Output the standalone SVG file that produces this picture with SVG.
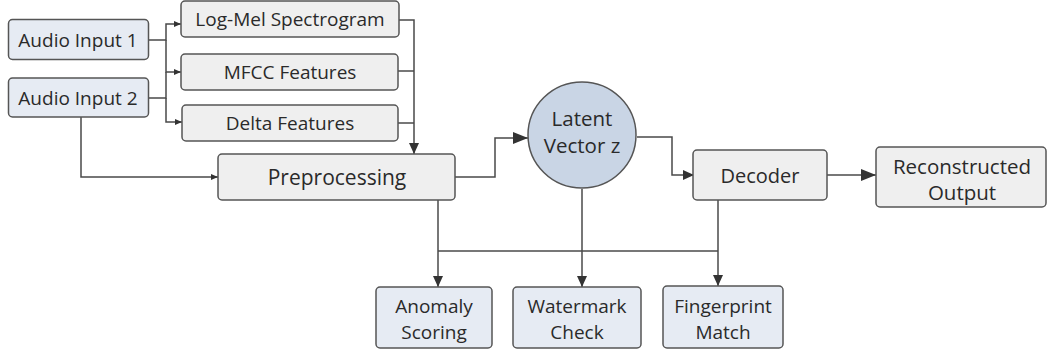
<svg xmlns="http://www.w3.org/2000/svg" width="1051" height="354" viewBox="0 0 1051 354">
<style>
  text { font-family: "Open Sans", "Noto Sans", "DejaVu Sans", sans-serif; fill: #2a2a2a; text-anchor: middle; dominant-baseline: central; }
  .io { fill: #e6ebf3; stroke: #555; stroke-width: 1.5; }
  .proc { fill: #efefef; stroke: #555; stroke-width: 1.5; }
  .lat { fill: #c9d5e5; stroke: #555; stroke-width: 1.5; }
  .c { fill: none; stroke: #4a4a4a; stroke-width: 1.5; }
</style>
<defs>
  <marker id="sm" markerUnits="userSpaceOnUse" markerWidth="8" markerHeight="8" refX="7" refY="4" orient="auto">
    <path d="M0,1 L7,4 L0,7 Z" fill="#333"/>
  </marker>
  <marker id="md" markerUnits="userSpaceOnUse" markerWidth="12" markerHeight="12" refX="11" refY="6" orient="auto">
    <path d="M0,1 L11,6 L0,11 Z" fill="#333"/>
  </marker>
  <marker id="lg" markerUnits="userSpaceOnUse" markerWidth="16" markerHeight="14" refX="15" refY="7" orient="auto">
    <path d="M0,1 L15,7 L0,13 Z" fill="#333"/>
  </marker>
</defs>
<rect width="1051" height="354" fill="#ffffff"/>
<g id="connectors">
  <path class="c" d="M149,40 H166 V24 H181" marker-end="url(#sm)"/>
  <path class="c" d="M166,40 V72 H181" marker-end="url(#sm)"/>
  <path class="c" d="M149,98 H166 V72"/>
  <path class="c" d="M166,98 V122 H182" marker-end="url(#sm)"/>
  <path class="c" d="M399,20 H414 V154" marker-end="url(#md)"/>
  <path class="c" d="M398,71 H414"/>
  <path class="c" d="M398,123 H414"/>
  <path class="c" d="M81,117 V177 H218" marker-end="url(#sm)"/>
  <path class="c" d="M455,177 H495 V138 H528" marker-end="url(#lg)"/>
  <path class="c" d="M637,137 H672 V175 H694" marker-end="url(#md)"/>
  <path class="c" d="M827,175 H876" marker-end="url(#lg)"/>
  <path class="c" d="M438,200 V287" marker-end="url(#md)"/>
  <path class="c" d="M582,189 V287" marker-end="url(#md)"/>
  <path class="c" d="M718,200 V286" marker-end="url(#md)"/>
  <path class="c" d="M438,251 H718"/>
</g>
<g id="audio1"><rect class="io" x="8.5" y="19.5" width="140" height="40" rx="4"/><text x="78" y="40" font-size="19">Audio Input 1</text></g>
<g id="audio2"><rect class="io" x="8.5" y="78" width="140" height="39" rx="4"/><text x="78" y="98" font-size="19">Audio Input 2</text></g>
<g id="logmel"><rect class="proc" x="181" y="1" width="218" height="36" rx="4"/><text x="290" y="19" font-size="19">Log-Mel Spectrogram</text></g>
<g id="mfcc"><rect class="proc" x="181" y="54" width="217" height="36" rx="4"/><text x="290" y="72" font-size="19">MFCC Features</text></g>
<g id="delta"><rect class="proc" x="182" y="105" width="216" height="36" rx="4"/><text x="290" y="123" font-size="19">Delta Features</text></g>
<g id="preprocessing"><rect class="proc" x="218" y="154" width="237" height="46" rx="4"/><text x="337" y="177" font-size="21">Preprocessing</text></g>
<g id="latent"><ellipse class="lat" cx="582" cy="135" rx="54" ry="53"/><text x="582" y="118" font-size="20.5">Latent</text><text x="582" y="145" font-size="20.5">Vector z</text></g>
<g id="decoder"><rect class="proc" x="693" y="150" width="134" height="50" rx="4"/><text x="760" y="175" font-size="20">Decoder</text></g>
<g id="reconstructed"><rect class="proc" x="876" y="147" width="170" height="60" rx="4"/><text x="962" y="166" font-size="20.5">Reconstructed</text><text x="962" y="192" font-size="20.5">Output</text></g>
<g id="anomaly"><rect class="io" x="376" y="287" width="116" height="61" rx="4"/><text x="434" y="306" font-size="19">Anomaly</text><text x="434" y="332" font-size="19">Scoring</text></g>
<g id="watermark"><rect class="io" x="513" y="287" width="128" height="61" rx="4"/><text x="577" y="306" font-size="19">Watermark</text><text x="577" y="332" font-size="19">Check</text></g>
<g id="fingerprint"><rect class="io" x="663" y="286" width="120" height="62" rx="4"/><text x="723" y="306" font-size="19">Fingerprint</text><text x="723" y="332" font-size="19">Match</text></g>
</svg>
